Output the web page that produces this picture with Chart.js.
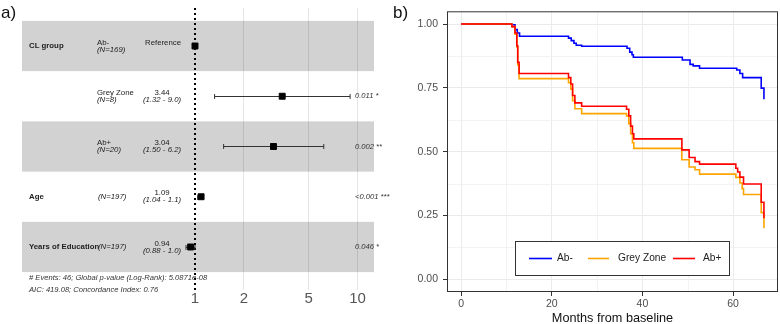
<!DOCTYPE html>
<html>
<head>
<meta charset="utf-8">
<script src="https://cdn.jsdelivr.net/npm/chart.js@4"></script>
<style>
  body { margin: 0; background: #fff; }
  #wrap { position: relative; width: 780px; height: 324px; }
  canvas { position: absolute; top: 0; }
  #forest { left: 0; }
  #km { left: 390px; }
</style>
</head>
<body>
<div id="wrap">
  <canvas id="forest" width="390" height="324"></canvas>
  <canvas id="km" width="390" height="324"></canvas>
</div>
<script>
// a) Cox model forest plot
const rowVars = ['CL group', '', '', 'Age', 'Years of Education'];
const rowLevels = ['Ab-', 'Grey Zone', 'Ab+', '', ''];
const rowN = [169, 8, 20, 197, 197];
const hazardRatios = [1, 3.44, 3.04, 1.09, 0.94];
const ciLow = [null, 1.32, 1.50, 1.04, 0.88];
const ciHigh = [null, 9.0, 6.2, 1.1, 1.0];
const pValues = ['', '0.011 *', '0.002 **', '<0.001 ***', '0.046 *'];
const hrTicks = [1, 2, 5, 10];
const footer = ['# Events: 46; Global p-value (Log-Rank): 5.0871e-08', 'AIC: 419.08; Concordance Index: 0.76'];

// b) Kaplan-Meier curves
const groupNames = ['Ab-', 'Grey Zone', 'Ab+'];
const abNegTime = [0, 11.2, 11.9, 12.4, 12.9, 23.7, 24.3, 24.9, 25.4, 26.6, 36.6, 37.2, 37.7, 38.0, 48.8, 50.5, 51.2, 52.6, 60.8, 61.5, 62.1, 66.2, 66.8];
const abNegSurv = [1, 0.997, 0.978, 0.965, 0.952, 0.945, 0.935, 0.925, 0.917, 0.913, 0.905, 0.89, 0.88, 0.870, 0.859, 0.842, 0.836, 0.827, 0.820, 0.806, 0.790, 0.749, 0.705];
const greyTime = [0, 11.2, 11.9, 12.3, 12.5, 12.8, 23.7, 24.2, 24.6, 25.1, 26.6, 36.5, 37.0, 37.4, 37.8, 38.1, 48.7, 50.3, 51.6, 52.6, 60.6, 61.5, 62.0, 62.3, 66.2, 66.8];
const greySurv = [1, 0.99, 0.96, 0.91, 0.84, 0.786, 0.77, 0.745, 0.70, 0.668, 0.649, 0.64, 0.61, 0.57, 0.535, 0.513, 0.468, 0.44, 0.429, 0.412, 0.399, 0.377, 0.355, 0.332, 0.261, 0.20];
const abPosTime = [0, 11.2, 11.9, 12.3, 12.5, 12.8, 23.7, 24.2, 24.6, 25.1, 26.6, 36.5, 37.0, 37.4, 37.8, 38.1, 48.7, 50.3, 51.6, 52.6, 60.6, 61.0, 61.5, 62.3, 66.2, 66.8];
const abPosSurv = [1, 0.99, 0.965, 0.915, 0.85, 0.806, 0.79, 0.765, 0.72, 0.691, 0.678, 0.666, 0.64, 0.60, 0.57, 0.550, 0.507, 0.477, 0.461, 0.451, 0.435, 0.42, 0.40, 0.373, 0.302, 0.239];
const monthTicks = [0, 20, 40, 60];
const survTicks = [0, 0.25, 0.5, 0.75, 1];

const FONT = "'Liberation Sans', Arial, Helvetica, sans-serif";
Chart.defaults.font.family = FONT;

function text(ctx, str, x, y, size, opts = {}) {
  ctx.font = (opts.italic ? 'italic ' : '') + (opts.bold ? 'bold ' : '') + size + 'px ' + FONT;
  ctx.fillStyle = opts.color || '#222';
  ctx.textAlign = opts.align || 'left';
  ctx.textBaseline = 'middle';
  ctx.fillText(str, x, y);
}

const forestPlugin = {
  id: 'forestDecor',
  beforeDraw(chart) {
    const { ctx, chartArea } = chart;
    const ys = chart.scales.y;
    ctx.save();
    ctx.fillStyle = '#d2d2d2';
    rowVars.forEach((v, i) => {
      if (i % 2 === 0) {
        const top = ys.getPixelForValue(i - 0.5);
        const bottom = ys.getPixelForValue(i + 0.5);
        ctx.fillRect(chartArea.left, top, chartArea.right - chartArea.left, bottom - top);
      }
    });
    ctx.restore();
  },
  beforeDatasetsDraw(chart) {
    const { ctx, chartArea } = chart;
    const xs = chart.scales.x, ys = chart.scales.y;
    ctx.save();
    // reference line at HR = 1
    const x1 = Math.round(xs.getPixelForValue(1));
    ctx.strokeStyle = '#000';
    ctx.lineWidth = 2;
    ctx.setLineDash([2, 3]);
    ctx.beginPath();
    ctx.moveTo(x1, chartArea.top);
    ctx.lineTo(x1, chartArea.bottom);
    ctx.stroke();
    ctx.setLineDash([]);

    // confidence intervals
    ctx.strokeStyle = '#333';
    ctx.lineWidth = 1;
    hazardRatios.forEach((hr, i) => {
      if (ciLow[i] == null) return;
      const y = Math.round(ys.getPixelForValue(i)) + 0.5;
      const a = xs.getPixelForValue(ciLow[i]);
      const b = xs.getPixelForValue(ciHigh[i]);
      ctx.beginPath();
      ctx.moveTo(a, y); ctx.lineTo(b, y);
      ctx.moveTo(a, y - 2.5); ctx.lineTo(a, y + 2.5);
      ctx.moveTo(b, y - 2.5); ctx.lineTo(b, y + 2.5);
      ctx.stroke();
    });

    // table columns
    rowVars.forEach((v, i) => {
      const y = ys.getPixelForValue(i);
      if (v) text(ctx, v, 29, y, 7.8, { bold: true });
      if (rowLevels[i]) {
        text(ctx, rowLevels[i], 97, y - 3.5, 7.8);
        text(ctx, '(N=' + rowN[i] + ')', 97, y + 3.5, 7.8, { italic: true });
      } else {
        text(ctx, '(N=' + rowN[i] + ')', 98, y, 7.8, { italic: true });
      }
      if (ciLow[i] == null) {
        text(ctx, 'Reference', 163, y - 3.5, 7.8, { align: 'center' });
      } else {
        text(ctx, hazardRatios[i].toFixed(2), 162, y - 3.5, 7.8, { align: 'center' });
        text(ctx, '(' + ciLow[i].toFixed(2) + ' - ' + ciHigh[i].toPrecision(2) + ')', 162, y + 3.5, 7.8, { align: 'center', italic: true });
      }
      if (pValues[i]) text(ctx, pValues[i], 355, y, 7.6, { italic: true, color: '#333' });
    });
    text(ctx, footer[0], 29, 278, 7.6, { italic: true, color: '#333' });
    text(ctx, footer[1], 29, 290, 7.6, { italic: true, color: '#333' });
    text(ctx, 'a)', 1, 13, 17, { color: '#111' });
    ctx.restore();
  }
};

new Chart(document.getElementById('forest'), {
  type: 'scatter',
  data: {
    datasets: [{
      data: hazardRatios.map((v, i) => ({ x: v, y: i })),
      pointStyle: 'rect',
      pointRadius: 4.2,
      pointBackgroundColor: '#000',
      pointBorderColor: '#000',
      pointBorderWidth: 1
    }]
  },
  options: {
    responsive: false,
    animation: false,
    devicePixelRatio: 1,
    layout: { padding: { left: 22, right: 16, top: 8, bottom: 0 } },
    plugins: { legend: { display: false }, tooltip: { enabled: false } },
    scales: {
      x: {
        type: 'logarithmic',
        min: 0.0862,
        max: 12.63,
        bounds: 'data',
        afterBuildTicks: s => { s.ticks = hrTicks.map(v => ({ value: v })); },
        afterFit: s => { s.height = 34; },
        ticks: { callback: v => String(v), color: '#555', font: { size: 15 }, padding: 0, autoSkip: false, maxRotation: 0 },
        grid: { color: c => (c.tick && c.tick.value === 1 ? 'rgba(0,0,0,0)' : 'rgba(0,0,0,0.1)'), drawTicks: false },
        border: { display: false }
      },
      y: { type: 'linear', display: false, reverse: true, min: -0.756, max: 4.856 }
    }
  },
  plugins: [forestPlugin]
});

const kmPlugin = {
  id: 'kmDecor',
  beforeDatasetsDraw(chart) {
    const { ctx, chartArea } = chart;
    const xs = chart.scales.x, ys = chart.scales.y;
    ctx.save();
    ctx.strokeStyle = '#f0f0f0';
    ctx.lineWidth = 0.8;
    ctx.beginPath();
    for (let i = 0; i < monthTicks.length - 1; i++) {
      const x = Math.round(xs.getPixelForValue((monthTicks[i] + monthTicks[i + 1]) / 2)) + 0.5;
      ctx.moveTo(x, chartArea.top); ctx.lineTo(x, chartArea.bottom);
    }
    for (let i = 0; i < survTicks.length - 1; i++) {
      const y = Math.round(ys.getPixelForValue((survTicks[i] + survTicks[i + 1]) / 2)) + 0.5;
      ctx.moveTo(chartArea.left, y); ctx.lineTo(chartArea.right, y);
    }
    ctx.stroke();
    ctx.restore();
  },
  afterDatasetsDraw(chart) {
    const { ctx, chartArea } = chart;
    ctx.save();
    ctx.strokeStyle = '#333';
    ctx.lineWidth = 1;
    ctx.strokeRect(chartArea.left + 0.5, chartArea.top + 0.5, chartArea.right - chartArea.left - 1, chartArea.bottom - chartArea.top - 1);

    // legend box
    ctx.fillStyle = '#fff';
    ctx.fillRect(125, 241, 214, 34);
    ctx.strokeRect(125.5, 241.5, 214, 34);
    const segs = [[139, 162, 167], [198, 219, 228], [283, 305, 313]];
    chart.data.datasets.forEach((ds, i) => {
      const [a, b, tx] = segs[i];
      ctx.strokeStyle = ds.borderColor;
      ctx.lineWidth = 1.6;
      ctx.beginPath();
      ctx.moveTo(a, 258.5); ctx.lineTo(b, 258.5);
      ctx.stroke();
      text(ctx, ds.label, tx, 258.5, 10.2, { color: '#222' });
    });
    text(ctx, 'b)', 3, 13, 17, { color: '#111' });
    ctx.restore();
  }
};

const kmSeries = [
  { t: abNegTime, s: abNegSurv, color: '#0000ff', order: 2 },
  { t: greyTime, s: greySurv, color: '#ffa500', order: 1 },
  { t: abPosTime, s: abPosSurv, color: '#ff0000', order: 0 }
];

new Chart(document.getElementById('km'), {
  type: 'line',
  data: {
    datasets: kmSeries.map((g, i) => ({
      label: groupNames[i],
      data: g.t.map((t, j) => ({ x: t, y: g.s[j] })),
      borderColor: g.color,
      borderWidth: 1.6,
      stepped: 'before',
      pointRadius: 0,
      fill: false,
      order: g.order
    }))
  },
  options: {
    responsive: false,
    animation: false,
    devicePixelRatio: 1,
    layout: { padding: { left: 0, right: 2, top: 9, bottom: 0 } },
    plugins: { legend: { display: false }, tooltip: { enabled: false } },
    scales: {
      x: {
        type: 'linear',
        min: -3.1,
        max: 69.9,
        afterBuildTicks: s => { s.ticks = monthTicks.map(v => ({ value: v })); },
        afterFit: s => { s.height = 32; },
        ticks: { color: '#4d4d4d', font: { size: 10.5 }, padding: 2, autoSkip: false, maxRotation: 0 },
        grid: { color: '#ebebeb', tickColor: '#333', tickLength: 4 },
        border: { display: false },
        title: { display: true, text: 'Months from baseline', color: '#111', font: { size: 12.7 }, padding: { top: 0, bottom: -2.5 } }
      },
      y: {
        type: 'linear',
        min: -0.05,
        max: 1.05,
        afterBuildTicks: s => { s.ticks = survTicks.map(v => ({ value: v })); },
        afterFit: s => { s.width = 57; },
        ticks: { callback: v => v.toFixed(2), color: '#4d4d4d', font: { size: 10.5 }, padding: 5, autoSkip: false },
        grid: { color: '#ebebeb', tickColor: '#333', tickLength: 4 },
        border: { display: false }
      }
    }
  },
  plugins: [kmPlugin]
});
</script>
</body>
</html>
